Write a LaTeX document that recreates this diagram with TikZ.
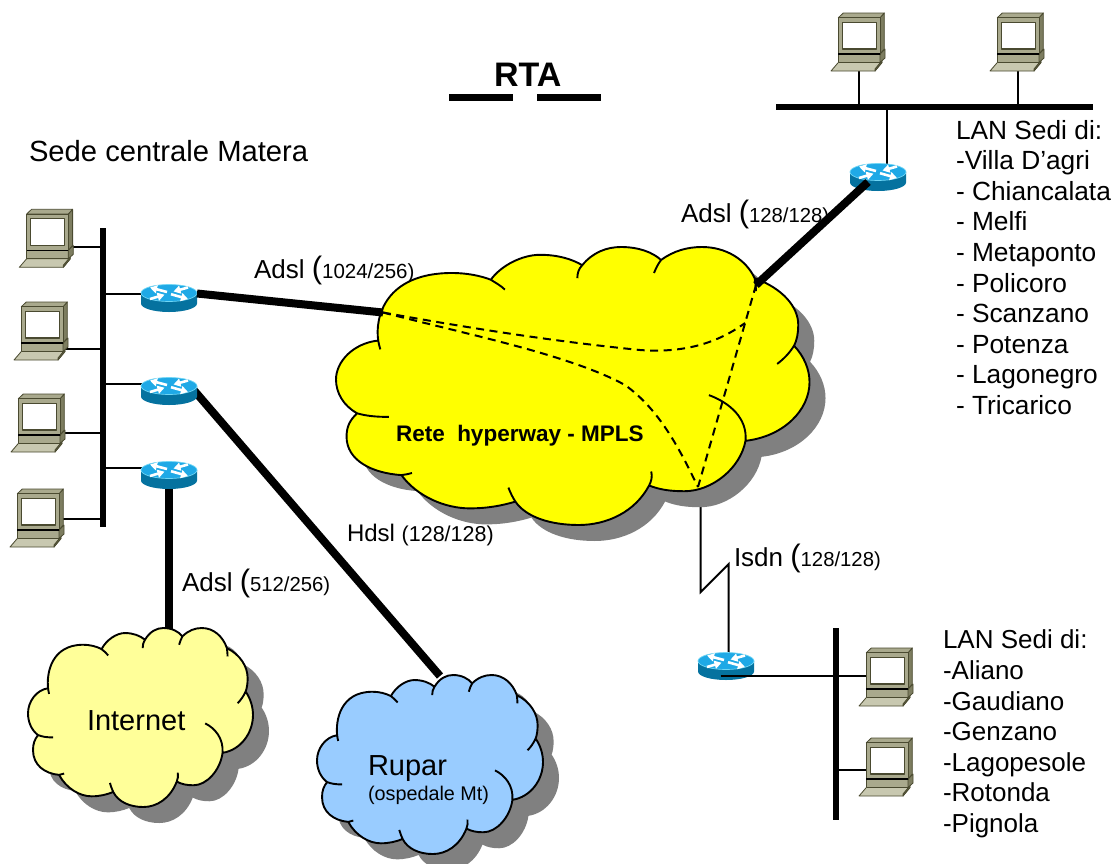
\documentclass[tikz,border=0pt]{standalone}
\usepackage{fontspec}
\setmainfont{Liberation Sans}
\usetikzlibrary{arrows.meta}
\definecolor{cloudY}{HTML}{FFFF00}
\definecolor{cloudP}{HTML}{FFFF99}
\definecolor{cloudB}{HTML}{99CCFF}
\definecolor{shadowgray}{HTML}{808080}
\definecolor{pcfront}{HTML}{A9A98D}
\definecolor{pcside}{HTML}{7D7D60}
\definecolor{pclight}{HTML}{C8C8B0}
\definecolor{pcline}{HTML}{4A4A30}
\definecolor{rtop}{HTML}{1FA9E6}
\definecolor{rside}{HTML}{05729F}
\definecolor{rglow}{HTML}{6FD6F5}
\tikzset{
  thinlink/.style={draw=black,line width=2pt},
  thicklink/.style={draw=black,line width=8pt},
  busline/.style={draw=black,line width=6pt},
  vpnlink/.style={draw=black,line width=2pt,dash pattern=on 8pt off 5.5pt},
  cloudline/.style={draw=black,line width=1.9pt},
  lbl/.style={inner sep=0pt,outer sep=0pt,anchor=base west,align=left},
  pcedge/.style={draw=pcline,line width=.8pt,line join=round},
  rarrow/.style={draw=white,line width=2.6pt,-{Triangle[length=7pt,width=8pt]}}
}
\newcommand{\bigparen}{{\fontsize{31}{31}\selectfont(}}
\newcommand{\cloudfillpath}{
  (405,90) .. controls (420,65) and (440,55) .. (460,55) .. controls (485,55) and (505,65) .. (517,80)
  .. controls (535,62) and (555,55) .. (575,55) .. controls (610,55) and (638,80) .. (650,115)
  .. controls (690,135) and (712,170) .. (712,205) .. controls (712,220) and (710,235) .. (706,245)
  .. controls (720,265) and (728,290) .. (728,315) .. controls (728,370) and (690,420) .. (637,428)
  .. controls (630,480) and (590,525) .. (550,525) .. controls (530,525) and (515,522) .. (500,514)
  .. controls (480,565) and (440,590) .. (400,590) .. controls (360,590) and (325,575) .. (310,545)
  .. controls (290,553) and (270,558) .. (245,558) .. controls (210,558) and (170,535) .. (148,494)
  .. controls (105,490) and (70,465) .. (70,420) .. controls (70,400) and (75,388) .. (85,375)
  .. controls (65,360) and (55,335) .. (55,310) .. controls (55,275) and (80,240) .. (115,235)
  .. controls (110,190) and (125,105) .. (220,105) .. controls (240,105) and (260,110) .. (275,118)
  .. controls (290,90) and (320,70) .. (345,70) .. controls (370,70) and (390,78) .. (405,90) -- cycle
}
\newcommand{\cloudtails}{
  (398,115) .. controls (398,105) and (400,97) .. (405,90)
  (507,105) .. controls (510,95) and (513,87) .. (517,80)
  (650,115) .. controls (651,125) and (652,132) .. (652,140)
  (682,280) .. controls (692,270) and (700,258) .. (706,245)
  (585,340) .. controls (615,355) and (640,385) .. (637,428)
  (503,487) .. controls (505,497) and (503,506) .. (500,514)
  (300,518) .. controls (303,528) and (306,537) .. (310,545)
  (148,494) .. controls (153,493) and (158,492) .. (163,490)
  (130,382) .. controls (112,382) and (97,380) .. (85,375)
  (118,252) .. controls (117,245) and (115,240) .. (115,235)
  (295,137) .. controls (290,130) and (282,124) .. (275,118)
}
% x0 y0 xscale yscale colour
\newcommand{\cloudat}[5]{
  \begin{scope}[shift={(#1+16,#2+16)},xscale=#3,yscale=#4,shift={(-55,-55)}]
    \fill[shadowgray] \cloudfillpath;
  \end{scope}
  \begin{scope}[shift={(#1,#2)},xscale=#3,yscale=#4,shift={(-55,-55)}]
    \fill[#5] \cloudfillpath;
    \draw[cloudline,line join=round] \cloudfillpath \cloudtails;
  \end{scope}
}
\newcommand{\pcat}[3]{
  \coordinate (#1) at (#2,#3);
  \begin{scope}[shift={(#1)}]
    \filldraw[pcedge,fill=pclight] (7.3,49.5) -- (51,49.5) -- (44,58) -- (0,58) -- cycle;
    \filldraw[pcedge,fill=pcside] (44,58) -- (51,49.5) -- (51,47.5) -- (44,56) -- cycle;
    \filldraw[pcedge,fill=pcfront] (7.3,41) rectangle (49,49.5);
    \filldraw[pcedge,fill=pcside] (49,41) -- (54,36) -- (54,45) -- (49,49.5) -- cycle;
    \filldraw[pcedge,fill=pcside] (49,4.7) -- (53.3,0) -- (53.3,36) -- (49,41) -- cycle;
    \filldraw[pcedge,fill=pcfront] (7.3,4.7) -- (12.3,0) -- (53.3,0) -- (49,4.7) -- cycle;
    \filldraw[pcedge,fill=pcfront] (7.3,4.7) rectangle (49,41);
    \filldraw[pcedge,line width=1.2pt,fill=white] (11.5,9.5) rectangle (45.5,36);
    \draw[draw=black,line width=1.2pt] (7.3,41) -- (49,41);
  \end{scope}
}
\newcommand{\routerat}[3]{
  \coordinate (#1) at (#2,#3);
  \begin{scope}[shift={(#1)}]
    \fill[rside] (-28,0) -- (-28,10.5) arc[start angle=180,end angle=360,x radius=28,y radius=-8.5] -- (28,0) -- cycle;
    \fill[rtop] (0,0) ellipse[x radius=28,y radius=8.5];
    \draw[rglow,line width=.7pt] (0,0) ellipse[x radius=28,y radius=8.5];
    \draw[rarrow] (-2,-1) -- (-19,-5.5);
    \draw[rarrow] (2,1.2) -- (19,6);
    \draw[rarrow] (19,-5.5) -- (4.5,-1.5);
    \draw[rarrow] (-19,6) -- (-4.5,1.7);
  \end{scope}
}
\begin{document}
\begin{tikzpicture}[x=1pt,y=-1pt]
\path[use as bounding box,fill=white] (0,0) rectangle (1116,863);

% attachment points
\coordinate (lbusT) at (103,228);
\coordinate (lbusB) at (103,527);
\coordinate (tbusL) at (776,106.5);
\coordinate (tbusR) at (1093,106.5);
\coordinate (bbusT) at (836,628);
\coordinate (bbusB) at (836,820);
\coordinate (pc1p) at (72,247);
\coordinate (pc2p) at (60,349);
\coordinate (pc3p) at (60,433);
\coordinate (pc4p) at (58,519);
\coordinate (r1p) at (145,293.5);
\coordinate (r2p) at (145,384);
\coordinate (r3p) at (145,468);
\coordinate (pc5p) at (859,68);
\coordinate (pc6p) at (1018,68);
\coordinate (r4p) at (887,165);
\coordinate (pc7p) at (866,676);
\coordinate (pc8p) at (866,770);
\coordinate (r5l) at (720.7,676);
\coordinate (r5t) at (728.7,654);
\coordinate (zb) at (700.7,592);
\coordinate (zt) at (728.7,564);
\coordinate (mplsbot) at (700.7,487);
\coordinate (mplsl) at (383,312.5);
\coordinate (mplsr) at (756,285);
\coordinate (r1e) at (197,293.5);
\coordinate (r2e) at (192,388);
\coordinate (r3e) at (169,486);
\coordinate (r4e) at (868,182);
\coordinate (inet) at (169,632);
\coordinate (rup) at (440,676);
\coordinate (vj) at (745,323);
\coordinate (vb) at (698,487);

% connectors beneath the equipment
\draw[thinlink] (pc1p) -- (pc1p -| lbusT);
\draw[thinlink] (pc2p) -- (pc2p -| lbusT);
\draw[thinlink] (pc3p) -- (pc3p -| lbusT);
\draw[thinlink] (pc4p) -- (pc4p -| lbusT);
\draw[thinlink] (r1p) -- (r1p -| lbusT);
\draw[thinlink] (r2p) -- (r2p -| lbusT);
\draw[thinlink] (r3p) -- (r3p -| lbusT);
\draw[thinlink] (pc5p) -- (pc5p |- tbusL);
\draw[thinlink] (pc6p) -- (pc6p |- tbusL);
\draw[thinlink] (r4p) -- (r4p |- tbusL);
\draw[thinlink] (pc8p) -- (pc8p -| bbusT);
\draw[thicklink] (r3e) -- (inet);
\draw[thicklink] (r2e) -- (rup);
\draw[thinlink] (mplsbot) -- (zb) -- (zt) -- (r5t);

% clouds
\cloudat{336}{247}{.7036}{.5196}{cloudY}
\cloudat{28}{628}{.3343}{.3346}{cloudP}
\cloudat{317}{675}{.3358}{.3346}{cloudB}

% equipment
\pcat{pc1}{19.3}{209.3}
\pcat{pc2}{14}{302}
\pcat{pc3}{11}{394}
\pcat{pc4}{10}{489}
\pcat{pc5}{831}{13}
\pcat{pc6}{990}{13}
\pcat{pc7}{859}{648}
\pcat{pc8}{859}{738}
\routerat{r1}{169}{293}
\routerat{r2}{169}{386}
\routerat{r3}{169}{470}
\routerat{r4}{878}{172}
\routerat{r5}{726}{661}

% buses and remaining links
\draw[busline] (lbusT) -- (lbusB);
\draw[busline] (tbusL) -- (tbusR);
\draw[busline] (bbusT) -- (bbusB);
\draw[thinlink] (r5l) -- (pc7p);
\draw[thicklink] (r1e) -- (mplsl);

% labels under the thick line
\node[lbl,font=\fontsize{26}{28}\selectfont] (l2) at (681,222) {Adsl \bigparen{\fontsize{20.3}{22}\selectfont 128/128)}};
\draw[thicklink] (r4e) -- (mplsr);

% dashed paths through the cloud
\draw[vpnlink] (mplsl) .. controls (480,330) and (560,342) .. (640,350) .. controls (680,353) and (715,345) .. (vj);
\draw[vpnlink] (mplsl) .. controls (470,335) and (570,355) .. (625,385) .. controls (660,410) and (680,450) .. (vb);
\draw[vpnlink] (mplsr) -- (vb);

% title
\node[lbl,font=\bfseries\fontsize{34}{38}\selectfont] (title) at (494,86) {RTA};
\coordinate (tA) at (449,97.5); \coordinate (tB) at (513,97.5);
\coordinate (tC) at (537,97.5); \coordinate (tD) at (601,97.5);
\draw[busline,line width=7pt] (tA) -- (tB);
\draw[busline,line width=7pt] (tC) -- (tD);

% labels
\node[lbl,font=\fontsize{29.2}{34}\selectfont] (sede) at (29,161) {Sede centrale Matera};
\node[lbl,anchor=north west,font=\fontsize{26.3}{30.6}\selectfont] (lan1) at (956,120) {LAN Sedi di:\\-Villa D’agri\\- Chiancalata\\- Melfi\\- Metaponto\\- Policoro\\- Scanzano\\- Potenza\\- Lagonegro\\- Tricarico};
\node[lbl,anchor=north west,font=\fontsize{26}{30.6}\selectfont] (lan2) at (943,630) {LAN Sedi di:\\-Aliano\\-Gaudiano\\-Genzano\\-Lagopesole\\-Rotonda\\-Pignola};
\node[lbl,font=\fontsize{26}{28}\selectfont] (l1) at (254,278) {Adsl \bigparen{\fontsize{20.5}{22}\selectfont 1024/256)}};
\node[lbl,font=\fontsize{24}{26}\selectfont] (l3) at (347,541) {Hdsl {\fontsize{21.5}{22}\selectfont (128/128)}};
\node[lbl,font=\fontsize{26}{28}\selectfont] (l4) at (734,566) {Isdn \bigparen{\fontsize{20.3}{22}\selectfont 128/128)}};
\node[lbl,font=\fontsize{26}{28}\selectfont] (l5) at (182,591) {Adsl \bigparen{\fontsize{20.3}{22}\selectfont 512/256)}};
\node[lbl,font=\bfseries\fontsize{22.5}{26}\selectfont] (mpls) at (396,441) {Rete\ \ hyperway - MPLS};
\node[lbl,font=\fontsize{29}{32}\selectfont] (internet) at (87,730) {Internet};
\node[lbl,font=\fontsize{29}{34}\selectfont] (rupar) at (368,775) {Rupar};
\node[lbl,font=\fontsize{19.8}{22}\selectfont] (osp) at (368,800) {(ospedale Mt)};
\end{tikzpicture}
\end{document}
